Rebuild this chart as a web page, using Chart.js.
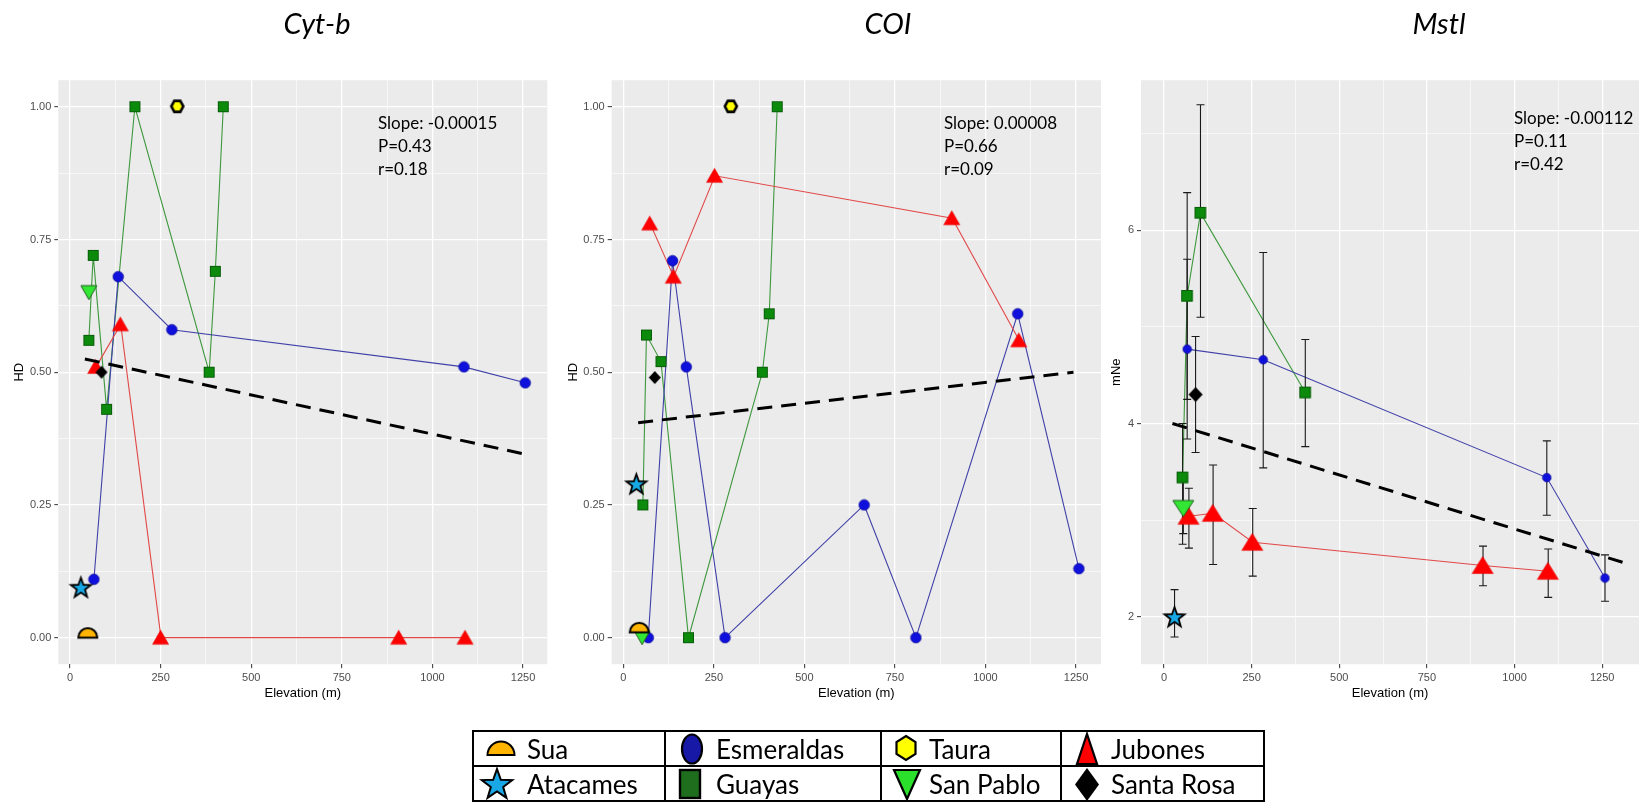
<!DOCTYPE html>
<html>
<head>
<meta charset="utf-8">
<script src="https://cdn.jsdelivr.net/npm/chart.js@4.4.1/dist/chart.umd.min.js"></script>
<style>
  html, body { margin: 0; padding: 0; background: #ffffff; }
  #page { position: relative; width: 1646px; height: 803px; overflow: hidden; background: #ffffff; }
  #page canvas.plot { position: absolute; left: 0; top: 0; }
  .title { position: absolute; width: 200px; text-align: center; font-family: Lato, "Open Sans", sans-serif;
           font-style: italic; font-size: 29px; line-height: 35px; color: #000; }
  .stats { position: absolute; font-family: Lato, "Open Sans", sans-serif; font-size: 17px; line-height: 23px;
           color: #000; white-space: pre; }
  #legend { position: absolute; left: 472px; top: 730px; display: grid;
            grid-template-columns: 192px 216px 180px 203px; grid-template-rows: 35px 35px;
            border-top: 2px solid #000; border-left: 2px solid #000; }
  #legend .cell { position: relative; border-right: 2px solid #000; border-bottom: 2px solid #000;
                  font-family: Lato, "Open Sans", sans-serif; font-size: 26px; line-height: 35px; color: #000; }
  #legend .cell span { position: absolute; top: 0; }
  #legend .cell canvas { position: absolute; top: 0; }
</style>
</head>
<body>
<div id="page">
  <canvas class="plot" id="cytb" width="1646" height="803"></canvas>
  <canvas class="plot" id="coi" width="1646" height="803"></canvas>
  <canvas class="plot" id="mstl" width="1646" height="803"></canvas>
  <div class="title" style="left:217px; top:5px;">Cyt-b</div>
  <div class="title" style="left:788px; top:5px;">COI</div>
  <div class="title" style="left:1339px; top:5px;">Mstl</div>
  <div class="stats" style="left:378px; top:111px;">Slope: -0.00015
P=0.43
r=0.18</div>
  <div class="stats" style="left:944px; top:111px;">Slope: 0.00008
P=0.66
r=0.09</div>
  <div class="stats" style="left:1514px; top:106px;">Slope: -0.00112
P=0.11
r=0.42</div>
  <div id="legend"></div>
</div>
<script>
// ---------- Cyt-b (HD vs elevation) ----------
const cytbGuayasX = [52, 64, 101, 179, 384, 401, 423];
const cytbGuayasY = [0.56, 0.72, 0.43, 1.00, 0.50, 0.69, 1.00];
const cytbEsmeraldasX = [66, 133, 281, 1087, 1256];
const cytbEsmeraldasY = [0.11, 0.68, 0.58, 0.51, 0.48];
const cytbJubonesX = [72, 140, 251, 908, 1091];
const cytbJubonesY = [0.51, 0.59, 0.00, 0.00, 0.00];
const cytbSantaRosaX = [87];
const cytbSantaRosaY = [0.50];
const cytbSanPabloX = [52];
const cytbSanPabloY = [0.65];
const cytbAtacamesX = [30];
const cytbAtacamesY = [0.095];
const cytbSuaX = [49];
const cytbSuaY = [0.00];
const cytbTauraX = [297];
const cytbTauraY = [1.00];
const cytbTrendX = [41, 1260];
const cytbTrendY = [0.525, 0.345];

// ---------- COI (HD vs elevation) ----------
const coiGuayasX = [54, 64, 104, 180, 384, 403, 425];
const coiGuayasY = [0.25, 0.57, 0.52, 0.00, 0.50, 0.61, 1.00];
const coiEsmeraldasX = [69, 136, 174, 281, 665, 808, 1089, 1258];
const coiEsmeraldasY = [0.00, 0.71, 0.51, 0.00, 0.25, 0.00, 0.61, 0.13];
const coiJubonesX = [74, 139, 253, 908, 1093];
const coiJubonesY = [0.78, 0.68, 0.87, 0.79, 0.56];
const coiSantaRosaX = [87];
const coiSantaRosaY = [0.49];
const coiSanPabloX = [52];
const coiSanPabloY = [0.00];
const coiAtacamesX = [36];
const coiAtacamesY = [0.29];
const coiSuaX = [44];
const coiSuaY = [0.01];
const coiTauraX = [298];
const coiTauraY = [1.00];
const coiTrendX = [41, 1243];
const coiTrendY = [0.405, 0.50];

// ---------- Mstl (mNe vs elevation, with error bars) ----------
const mstlGuayasX = [53, 66, 104, 403];
const mstlGuayasY = [3.44, 5.32, 6.18, 4.32];
const mstlGuayasLo = [2.75, 4.25, 5.10, 3.76];
const mstlGuayasHi = [4.00, 6.39, 7.30, 4.87];
const mstlEsmeraldasX = [66, 283, 1092, 1258];
const mstlEsmeraldasY = [4.77, 4.66, 3.44, 2.40];
const mstlEsmeraldasLo = [3.84, 3.54, 3.05, 2.16];
const mstlEsmeraldasHi = [5.70, 5.77, 3.82, 2.64];
const mstlJubonesX = [71, 140, 253, 910, 1096];
const mstlJubonesY = [3.04, 3.07, 2.77, 2.53, 2.47];
const mstlJubonesLo = [2.71, 2.54, 2.42, 2.32, 2.20];
const mstlJubonesHi = [3.33, 3.57, 3.12, 2.73, 2.70];
const mstlSantaRosaX = [90];
const mstlSantaRosaY = [4.30];
const mstlSantaRosaLo = [3.70];
const mstlSantaRosaHi = [4.90];
const mstlSanPabloX = [55];
const mstlSanPabloY = [3.12];
const mstlSanPabloLo = [2.86];
const mstlSanPabloHi = [3.40];
const mstlAtacamesX = [30];
const mstlAtacamesY = [2.00];
const mstlAtacamesLo = [1.79];
const mstlAtacamesHi = [2.28];
const mstlTrendX = [24, 1311];
const mstlTrendY = [4.00, 2.56];

// ---------- axis ticks ----------
const elevMajorTicks = [0, 250, 500, 750, 1000, 1250];
const elevMinorTicks = [125, 375, 625, 875, 1125];
const hdMajorTicks = [0, 0.25, 0.5, 0.75, 1.0];
const hdMinorTicks = [0.125, 0.375, 0.625, 0.875];
const mneMajorTicks = [2, 4, 6];
const mneMinorTicks = [3, 5, 7];

// ---------- legend ----------
const legendNames = ['Sua', 'Esmeraldas', 'Taura', 'Jubones', 'Atacames', 'Guayas', 'San Pablo', 'Santa Rosa'];

const pts = (xs, ys) => xs.map((x, i) => ({x: x, y: ys[i]}));

// ---------- marker drawing ----------
function makeCanvas(w, h, draw) {
  const c = document.createElement('canvas');
  c.width = Math.ceil(w); c.height = Math.ceil(h);
  const g = c.getContext('2d');
  draw(g, c.width, c.height);
  return c;
}
function squareMark(s, fill, stroke) {
  return makeCanvas(s + 2, s + 2, (g, w, h) => {
    g.fillStyle = fill; g.fillRect(1, 1, s, s);
    g.strokeStyle = stroke; g.lineWidth = 1; g.strokeRect(1.5, 1.5, s - 1, s - 1);
  });
}
function circleMark(d, fill, stroke) {
  return makeCanvas(d + 2, d + 2, (g, w, h) => {
    g.beginPath(); g.arc(w / 2, h / 2, d / 2, 0, Math.PI * 2);
    g.fillStyle = fill; g.fill();
    g.strokeStyle = stroke; g.lineWidth = 0.8; g.stroke();
  });
}
function triMark(tw, th, fill, stroke, lw, down) {
  const p = lw + 1;
  return makeCanvas(tw + 2 * p, th + 2 * p, (g, w, h) => {
    g.beginPath();
    if (down) { g.moveTo(p, p); g.lineTo(p + tw, p); g.lineTo(p + tw / 2, p + th); }
    else { g.moveTo(p + tw / 2, p); g.lineTo(p + tw, p + th); g.lineTo(p, p + th); }
    g.closePath();
    g.fillStyle = fill; g.fill();
    g.strokeStyle = stroke; g.lineWidth = lw; g.lineJoin = 'miter'; g.stroke();
  });
}
function diamondMark(dw, dh, fill) {
  return makeCanvas(dw + 2, dh + 2, (g, w, h) => {
    g.beginPath(); g.moveTo(w / 2, 1); g.lineTo(w - 1, h / 2); g.lineTo(w / 2, h - 1); g.lineTo(1, h / 2);
    g.closePath(); g.fillStyle = fill; g.fill();
  });
}
function starPath(g, cx, cy, ro, ri) {
  g.beginPath();
  for (let i = 0; i < 10; i++) {
    const r = i % 2 === 0 ? ro : ri;
    const a = -Math.PI / 2 + i * Math.PI / 5;
    const px = cx + r * Math.cos(a), py = cy + r * Math.sin(a);
    if (i === 0) g.moveTo(px, py); else g.lineTo(px, py);
  }
  g.closePath();
}
function starMark(ro, ri, fill, lw) {
  const s = 2 * ro + 2 * lw + 2;
  return makeCanvas(s, s, (g, w, h) => {
    starPath(g, w / 2, h / 2 + 1, ro, ri);
    g.fillStyle = fill; g.fill();
    g.strokeStyle = '#000'; g.lineWidth = lw; g.lineJoin = 'miter'; g.stroke();
  });
}
function domeMark(r, fill, lw) {
  const s = 2 * r + 2 * lw + 2;
  return makeCanvas(s, s, (g, w, h) => {
    g.beginPath(); g.arc(w / 2, h / 2, r, Math.PI, 2 * Math.PI); g.closePath();
    g.fillStyle = fill; g.fill();
    g.strokeStyle = '#000'; g.lineWidth = lw; g.stroke();
  });
}
function hexMark(hw, hh, fill, lw) {
  const p = lw + 1;
  return makeCanvas(hw + 2 * p, hh + 2 * p, (g, w, h) => {
    g.beginPath();
    g.moveTo(p, p + hh / 2); g.lineTo(p + hw / 4, p); g.lineTo(p + 3 * hw / 4, p);
    g.lineTo(p + hw, p + hh / 2); g.lineTo(p + 3 * hw / 4, p + hh); g.lineTo(p + hw / 4, p + hh);
    g.closePath(); g.fillStyle = fill; g.fill();
    g.strokeStyle = '#000'; g.lineWidth = lw; g.stroke();
  });
}

const COL = {
  guayas: '#0B8A0B', guayasEdge: '#0A5E0A', guayasLine: '#3E983E',
  esm: '#1010DC', esmEdge: '#0A0AA0', esmLine: '#4040A8',
  jub: '#FF0000', jubEdge: '#E80000', jubLine: '#E24848',
  sanPablo: '#33E633', sanPabloEdge: '#1E5E1E',
  atacames: '#17A8E6', sua: '#FFB400', taura: '#FFFF00'
};

const smallMarks = {
  guayas: squareMark(11, COL.guayas, COL.guayasEdge),
  esm: circleMark(10.5, COL.esm, COL.esmEdge),
  jub: triMark(16, 14, COL.jub, COL.jubEdge, 0.6, false),
  santaRosa: diamondMark(12, 13, '#000'),
  sanPablo: triMark(16, 14, COL.sanPablo, COL.sanPabloEdge, 1, true),
  atacames: starMark(10.5, 4.3, COL.atacames, 1.8),
  sua: domeMark(9.5, COL.sua, 2),
  taura: hexMark(12, 11, COL.taura, 2.6)
};
const bigMarks = {
  guayas: squareMark(11.5, COL.guayas, COL.guayasEdge),
  esm: circleMark(8.5, COL.esm, COL.esmEdge),
  jub: triMark(21, 17, COL.jub, COL.jubEdge, 0.6, false),
  santaRosa: diamondMark(14, 15, '#000'),
  sanPablo: triMark(21, 16, COL.sanPablo, COL.sanPabloEdge, 1, true),
  atacames: starMark(10.5, 4.3, COL.atacames, 1.8),
  sua: domeMark(9.5, COL.sua, 2),
  taura: hexMark(12, 11, COL.taura, 2.6)
};

// ---------- dataset builders ----------
function lineSet(data, color) {
  return { data: data, showLine: true, borderColor: color, borderWidth: 1.1, pointRadius: 0,
           pointHoverRadius: 0, fill: false, clip: false, tension: 0 };
}
function pointSet(data, mark) {
  return { data: data, showLine: false, pointStyle: mark, pointRadius: 6, pointHoverRadius: 6,
           backgroundColor: 'rgba(0,0,0,0)', borderColor: 'rgba(0,0,0,0)', clip: false };
}
function trendSet(data) {
  return { data: data, showLine: true, borderColor: '#000000', borderWidth: 3, borderDash: [15, 9],
           borderCapStyle: 'butt', pointRadius: 0, pointHoverRadius: 0, fill: false, clip: false };
}

// panel background
const panelBg = {
  id: 'panelBg',
  beforeDraw(chart) {
    const a = chart.chartArea, g = chart.ctx;
    g.save(); g.fillStyle = '#EBEBEB'; g.fillRect(a.left, a.top, a.right - a.left, a.bottom - a.top); g.restore();
  }
};

// error bars, drawn underneath the point markers
const errorBars = {
  id: 'errorBars',
  beforeDatasetDraw(chart, args) {
    const ds = chart.data.datasets[args.index];
    if (!ds.errorBarsBelow) return;
    const bars = chart.options.plugins.errorBars.bars || [];
    const xs = chart.scales.x, ys = chart.scales.y, g = chart.ctx;
    g.save();
    g.strokeStyle = '#1A1A1A'; g.lineWidth = 1.1;
    bars.forEach(b => {
      b.x.forEach((xv, i) => {
        const px = xs.getPixelForValue(xv);
        const pLo = ys.getPixelForValue(b.lo[i]);
        const pHi = ys.getPixelForValue(b.hi[i]);
        g.beginPath();
        g.moveTo(px, pLo); g.lineTo(px, pHi);
        g.moveTo(px - 4, pLo); g.lineTo(px + 4, pLo);
        g.moveTo(px - 4, pHi); g.lineTo(px + 4, pHi);
        g.stroke();
      });
    });
    g.restore();
  }
};

function makeChart(id, cfg) {
  const isMajorX = v => elevMajorTicks.includes(v);
  const isMajorY = v => cfg.yMajor.includes(v);
  const xTicks = elevMajorTicks.concat(elevMinorTicks).sort((a, b) => a - b);
  const yTicks = cfg.yMajor.concat(cfg.yMinor).sort((a, b) => a - b);
  const tickFont = { family: '"Liberation Sans", Arial, sans-serif', size: 11 };
  const titleFont = { family: '"Liberation Sans", Arial, sans-serif', size: 13 };
  return new Chart(document.getElementById(id), {
    type: 'scatter',
    data: { datasets: cfg.datasets },
    options: {
      responsive: false, animation: false, devicePixelRatio: 1,
      events: [],
      layout: { padding: { left: cfg.padLeft, right: 1646 - cfg.areaRight, top: 80.2, bottom: 102.2 } },
      plugins: { legend: { display: false }, tooltip: { enabled: false }, errorBars: { bars: cfg.bars || [] } },
      scales: {
        x: {
          type: 'linear', min: cfg.xMin, max: cfg.xMax,
          afterBuildTicks: s => { s.ticks = xTicks.map(v => ({ value: v })); },
          afterFit: s => { s.height = 36.6; },
          ticks: { autoSkip: false, maxRotation: 0, minRotation: 0, padding: 3, font: tickFont, color: '#4D4D4D',
                   callback: v => isMajorX(v) ? String(v) : '' },
          grid: { color: '#FFFFFF', lineWidth: c => (c.tick && isMajorX(c.tick.value)) ? 1.3 : 0.6,
                  tickLength: 4, tickWidth: 1,
                  tickColor: c => (c.tick && isMajorX(c.tick.value)) ? '#333333' : 'rgba(0,0,0,0)' },
          border: { display: false },
          title: { display: true, text: 'Elevation (m)', font: titleFont, color: '#000', padding: 0 }
        },
        y: {
          type: 'linear', min: cfg.yMin, max: cfg.yMax,
          afterBuildTicks: s => { s.ticks = yTicks.map(v => ({ value: v })); },
          afterFit: s => { s.width = cfg.yAxisWidth; },
          ticks: { autoSkip: false, padding: 3, font: tickFont, color: '#4D4D4D',
                   callback: v => isMajorY(v) ? cfg.yFormat(v) : '' },
          grid: { color: '#FFFFFF', lineWidth: c => (c.tick && isMajorY(c.tick.value)) ? 1.3 : 0.6,
                  tickLength: 4, tickWidth: 1,
                  tickColor: c => (c.tick && isMajorY(c.tick.value)) ? '#333333' : 'rgba(0,0,0,0)' },
          border: { display: false },
          title: { display: true, text: cfg.yTitle, font: titleFont, color: '#000', padding: 0 }
        }
      }
    },
    plugins: [panelBg, errorBars]
  });
}

// first dataset is drawn on top, so the list runs from top layer to bottom layer
function panelSets(d, marks) {
  const sets = [
    trendSet(pts(d.trendX, d.trendY)),
    pointSet(pts(d.tauraX, d.tauraY), marks.taura),
    pointSet(pts(d.suaX, d.suaY), marks.sua),
    pointSet(pts(d.santaRosaX, d.santaRosaY), marks.santaRosa),
    pointSet(pts(d.atacamesX, d.atacamesY), marks.atacames),
    pointSet(pts(d.sanPabloX, d.sanPabloY), marks.sanPablo),
    pointSet(pts(d.jubonesX, d.jubonesY), marks.jub),
    pointSet(pts(d.esmX, d.esmY), marks.esm),
    pointSet(pts(d.guayasX, d.guayasY), marks.guayas),
    lineSet(pts(d.jubonesX, d.jubonesY), COL.jubLine),
    lineSet(pts(d.esmX, d.esmY), COL.esmLine),
    lineSet(pts(d.guayasX, d.guayasY), COL.guayasLine)
  ].filter(s => s.data.length > 0);
  return sets;
}

const hdFormat = v => v.toFixed(2);

makeChart('cytb', {
  padLeft: 11.2, yAxisWidth: 47.1, areaRight: 547.3,
  xMin: -32.3, xMax: 1317, yMin: -0.05, yMax: 1.05,
  yMajor: hdMajorTicks, yMinor: hdMinorTicks, yFormat: hdFormat, yTitle: 'HD',
  datasets: panelSets({
    trendX: cytbTrendX, trendY: cytbTrendY, tauraX: cytbTauraX, tauraY: cytbTauraY,
    suaX: cytbSuaX, suaY: cytbSuaY, santaRosaX: cytbSantaRosaX, santaRosaY: cytbSantaRosaY,
    atacamesX: cytbAtacamesX, atacamesY: cytbAtacamesY, sanPabloX: cytbSanPabloX, sanPabloY: cytbSanPabloY,
    jubonesX: cytbJubonesX, jubonesY: cytbJubonesY, esmX: cytbEsmeraldasX, esmY: cytbEsmeraldasY,
    guayasX: cytbGuayasX, guayasY: cytbGuayasY
  }, smallMarks)
});

makeChart('coi', {
  padLeft: 565.7, yAxisWidth: 46, areaRight: 1101,
  xMin: -32, xMax: 1319, yMin: -0.05, yMax: 1.05,
  yMajor: hdMajorTicks, yMinor: hdMinorTicks, yFormat: hdFormat, yTitle: 'HD',
  datasets: panelSets({
    trendX: coiTrendX, trendY: coiTrendY, tauraX: coiTauraX, tauraY: coiTauraY,
    suaX: coiSuaX, suaY: coiSuaY, santaRosaX: coiSantaRosaX, santaRosaY: coiSantaRosaY,
    atacamesX: coiAtacamesX, atacamesY: coiAtacamesY, sanPabloX: coiSanPabloX, sanPabloY: coiSanPabloY,
    jubonesX: coiJubonesX, jubonesY: coiJubonesY, esmX: coiEsmeraldasX, esmY: coiEsmeraldasY,
    guayasX: coiGuayasX, guayasY: coiGuayasY
  }, smallMarks)
});

const mstlSets = panelSets({
  trendX: mstlTrendX, trendY: mstlTrendY, tauraX: [], tauraY: [], suaX: [], suaY: [],
  santaRosaX: mstlSantaRosaX, santaRosaY: mstlSantaRosaY,
  atacamesX: mstlAtacamesX, atacamesY: mstlAtacamesY, sanPabloX: mstlSanPabloX, sanPabloY: mstlSanPabloY,
  jubonesX: mstlJubonesX, jubonesY: mstlJubonesY, esmX: mstlEsmeraldasX, esmY: mstlEsmeraldasY,
  guayasX: mstlGuayasX, guayasY: mstlGuayasY
}, bigMarks);
// error bars go just under the lowest point layer (Guayas markers)
mstlSets[7].errorBarsBelow = true;

makeChart('mstl', {
  padLeft: 1108.2, yAxisWidth: 32.8, areaRight: 1645,
  xMin: -65.7, xMax: 1355, yMin: 1.508, yMax: 7.554,
  yMajor: mneMajorTicks, yMinor: mneMinorTicks, yFormat: v => String(v), yTitle: 'mNe',
  bars: [
    { x: mstlGuayasX, lo: mstlGuayasLo, hi: mstlGuayasHi },
    { x: mstlEsmeraldasX, lo: mstlEsmeraldasLo, hi: mstlEsmeraldasHi },
    { x: mstlJubonesX, lo: mstlJubonesLo, hi: mstlJubonesHi },
    { x: mstlSantaRosaX, lo: mstlSantaRosaLo, hi: mstlSantaRosaHi },
    { x: mstlSanPabloX, lo: mstlSanPabloLo, hi: mstlSanPabloHi },
    { x: mstlAtacamesX, lo: mstlAtacamesLo, hi: mstlAtacamesHi }
  ],
  datasets: mstlSets
});

// ---------- legend table ----------
const legendSymbols = [
  g => { g.beginPath(); g.arc(20, 23, 13.5, Math.PI, 2 * Math.PI); g.closePath();
         g.fillStyle = '#FFB400'; g.fill(); g.lineWidth = 2; g.strokeStyle = '#000'; g.stroke(); },
  g => { g.beginPath(); g.ellipse(20, 17, 10, 14.5, 0, 0, Math.PI * 2);
         g.fillStyle = '#1818A6'; g.fill(); g.lineWidth = 2.2; g.strokeStyle = '#000'; g.stroke(); },
  g => { g.beginPath(); g.moveTo(20, 4); g.lineTo(29.5, 10); g.lineTo(29.5, 22); g.lineTo(20, 28);
         g.lineTo(10.5, 22); g.lineTo(10.5, 10); g.closePath();
         g.fillStyle = '#FFFF00'; g.fill(); g.lineWidth = 2.2; g.strokeStyle = '#000'; g.stroke(); },
  g => { g.beginPath(); g.moveTo(20, 2); g.lineTo(30, 32); g.lineTo(10, 32); g.closePath();
         g.fillStyle = '#FF0000'; g.fill(); g.lineWidth = 2.2; g.strokeStyle = '#000'; g.stroke(); },
  g => { starPath(g, 20, 18, 16, 6.5);
         g.fillStyle = '#1AA7E6'; g.fill(); g.lineWidth = 2; g.strokeStyle = '#000'; g.stroke(); },
  g => { g.fillStyle = '#1E6E1E'; g.fillRect(10, 3, 20, 28); g.lineWidth = 2.4; g.strokeStyle = '#000';
         g.strokeRect(10, 3, 20, 28); },
  g => { g.beginPath(); g.moveTo(7, 3); g.lineTo(33, 3); g.lineTo(20, 32); g.closePath();
         g.fillStyle = '#2BE02B'; g.fill(); g.lineWidth = 2.2; g.strokeStyle = '#000'; g.stroke(); },
  g => { g.beginPath(); g.moveTo(20, 1); g.lineTo(32, 17.5); g.lineTo(20, 34); g.lineTo(8, 17.5); g.closePath();
         g.fillStyle = '#000'; g.fill(); }
];
const legendTextLeft = [53, 50, 47, 49, 53, 50, 47, 49];
const legendSymbolLeft = [7, 6, 3.5, 4.5, 3, 4, 5, 4.5];
const legendEl = document.getElementById('legend');
legendNames.forEach((name, i) => {
  const cell = document.createElement('div');
  cell.className = 'cell';
  const sym = makeCanvas(40, 35, legendSymbols[i]);
  sym.style.left = legendSymbolLeft[i] + 'px';
  cell.appendChild(sym);
  const span = document.createElement('span');
  span.textContent = name;
  span.style.left = legendTextLeft[i] + 'px';
  cell.appendChild(span);
  legendEl.appendChild(cell);
});
</script>
</body>
</html>
